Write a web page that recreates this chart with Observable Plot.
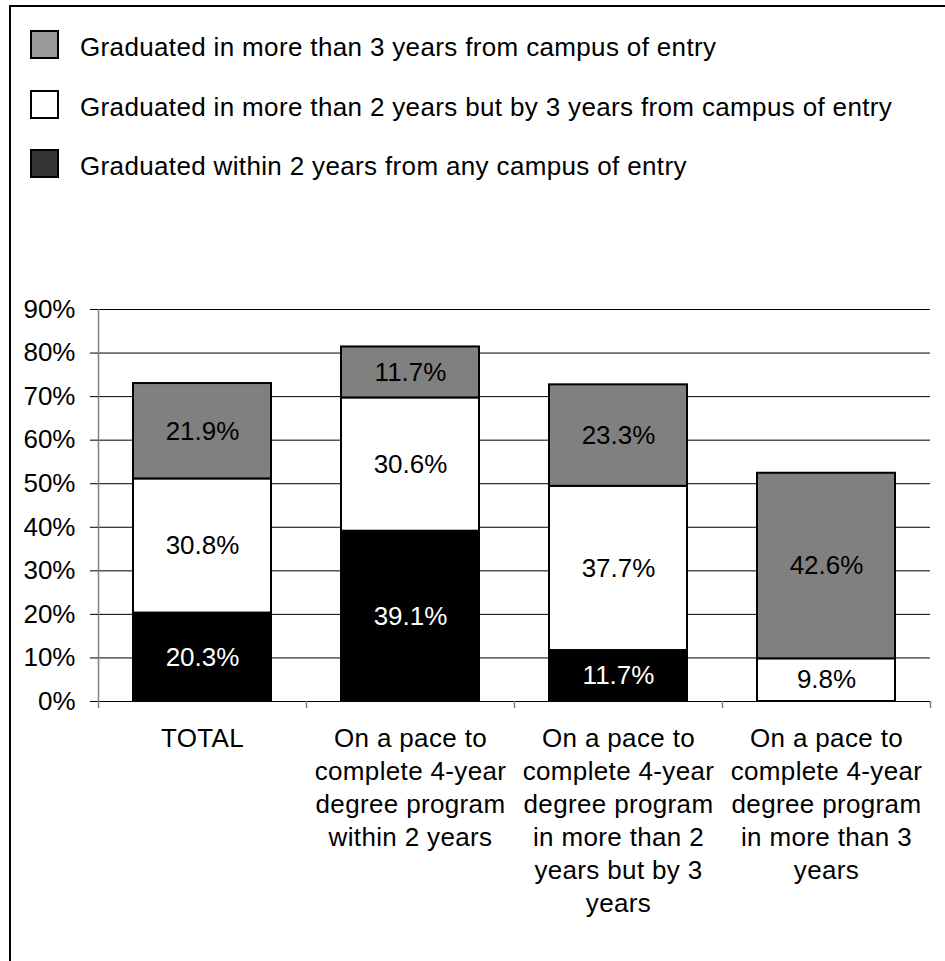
<!DOCTYPE html>
<html><head><meta charset="utf-8">
<script src="https://cdn.jsdelivr.net/npm/d3@7"></script>
<script src="https://cdn.jsdelivr.net/npm/@observablehq/plot@0.6"></script>
<style>
body{margin:0;background:#fff;font-family:"Liberation Sans",Arial,sans-serif;}
#wrap{position:relative;width:945px;height:961px;overflow:hidden;background:#fff;}
#border{position:absolute;left:9px;top:5px;right:-10px;bottom:-10px;border-left:2px solid #000;border-top:2px solid #000;pointer-events:none;}
#legend{position:relative;height:240px;}
.sw{position:absolute;left:30px;width:29px;height:29px;box-sizing:border-box;border:2px solid #000;}
.lt{position:absolute;left:80px;font-size:26px;line-height:29px;letter-spacing:0.35px;white-space:nowrap;color:#000;}
#chart svg{display:block;}
#chart svg g[aria-label="x-axis tick label"] text{letter-spacing:0.35px;}
</style></head><body>
<div id="wrap"><div id="legend"></div><div id="chart"></div><div id="border"></div></div>
<script>
const categories = [
  "TOTAL",
  "On a pace to\ncomplete 4-year\ndegree program\nwithin 2 years",
  "On a pace to\ncomplete 4-year\ndegree program\nin more than 2\nyears but by 3\nyears",
  "On a pace to\ncomplete 4-year\ndegree program\nin more than 3\nyears"
];
const seriesNames = [
  "Graduated within 2 years from any campus of entry",
  "Graduated in more than 2 years but by 3 years from campus of entry",
  "Graduated in more than 3 years from campus of entry"
];
const within2 = [20.3, 39.1, 11.7, 0];
const by3 = [30.8, 30.6, 37.7, 9.8];
const over3 = [21.9, 11.7, 23.3, 42.6];
const yTicks = [0, 10, 20, 30, 40, 50, 60, 70, 80, 90];
const barColors = ["#000000", "#ffffff", "#808080"];
const legendColors = ["#333333", "#ffffff", "#999999"];

const seriesValues = [within2, by3, over3];
const rows = [];
categories.forEach((c, i) => {
  seriesNames.forEach((s, j) => rows.push({category: c, series: s, value: seriesValues[j][i]}));
});

// Legend (top to bottom: reverse of stack order)
const legend = document.getElementById("legend");
[2, 1, 0].forEach((j, k) => {
  const top = 30 + k * 59.5;
  const sw = document.createElement("div");
  sw.className = "sw";
  sw.style.top = top + "px";
  sw.style.background = legendColors[j];
  legend.appendChild(sw);
  const t = document.createElement("div");
  t.className = "lt";
  t.style.top = (top + 3) + "px";
  t.textContent = seriesNames[j];
  legend.appendChild(t);
});

const W = 945, H = 721, mL = 98, mR = 15, mT = 69, mB = 260;
const step = (W - mL - mR) / categories.length;
const font = "Liberation Sans, Arial, sans-serif";

const chart = Plot.plot({
  width: W,
  height: H,
  marginLeft: mL,
  marginRight: mR,
  marginTop: mT,
  marginBottom: mB,
  style: {fontFamily: font, fontSize: "26px", background: "transparent", color: "#000"},
  x: {domain: categories, paddingInner: 0.335, paddingOuter: 0.1675, axis: null, label: null},
  y: {domain: [0, 90], axis: null, label: null},
  color: {domain: seriesNames, range: barColors},
  marks: [
    Plot.gridY(yTicks.filter(d => d > 0), {stroke: "#000", strokeOpacity: 1, strokeWidth: 1}),
    Plot.ruleX([categories[0]], {dx: -step / 2, y1: 0, y2: 90, stroke: "#808080", strokeWidth: 1.5}),
    Plot.barY(rows, {x: "category", y: "value", fill: "series", stroke: "#000", strokeWidth: 2}),
    Plot.text(rows, Plot.stackY({
      x: "category", y: "value", z: "series",
      text: d => d.value > 0 && d.series === seriesNames[0] ? d.value.toFixed(1) + "%" : "",
      fill: "#fff", fontSize: 26
    })),
    Plot.text(rows, Plot.stackY({
      x: "category", y: "value", z: "series",
      text: d => d.value > 0 && d.series !== seriesNames[0] ? d.value.toFixed(1) + "%" : "",
      fill: "#000", fontSize: 26
    })),
    Plot.ruleY([0], {stroke: "#000", strokeWidth: 1}),
    Plot.axisY({ticks: yTicks, tickSize: 8, tickPadding: 15, tickFormat: d => d + "%", fontSize: 26, stroke: "#000", label: null}),
    Plot.axisX({tickSize: 7, tickFormat: () => "", dx: -step / 2, stroke: "#808080", strokeWidth: 1.5, label: null}),
    Plot.axisX({ticks: [categories[categories.length - 1]], tickSize: 7, tickFormat: () => "", dx: step / 2, stroke: "#808080", strokeWidth: 1.5, label: null}),
    Plot.axisX({tickSize: 0, tickPadding: 22, fontSize: 26, lineHeight: 1.27, tickFormat: d => d, label: null})
  ]
});
document.getElementById("chart").appendChild(chart);
</script>
</body></html>
